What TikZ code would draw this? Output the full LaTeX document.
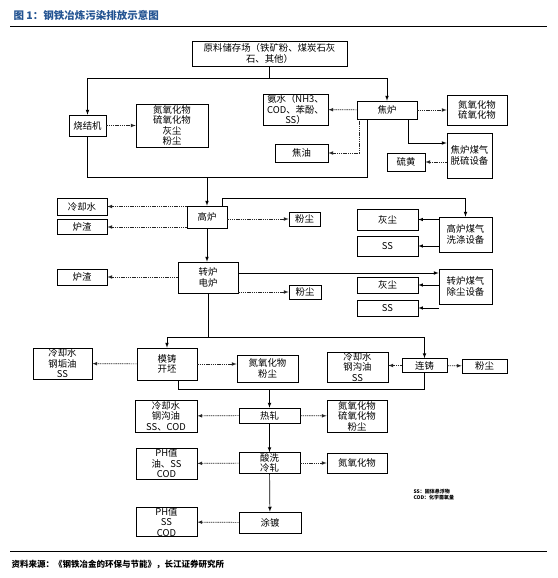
\documentclass[tikz,border=0pt]{standalone}
\usepackage{fontspec}
\setmainfont{Noto Sans CJK SC}
\usetikzlibrary{arrows}

\definecolor{titleblue}{RGB}{36,84,146}

\tikzset{
	box/.style = {draw, line width = 0.7pt, align = center, inner sep = 0pt,
		font = \fontsize{9.4}{10.5}\selectfont},
	flow/.style = {->, line width = 0.7pt},
	emit/.style = {->, line width = 0.65pt, dash pattern = on 1.4pt off 0.8pt, black!85}
}

\begin{document}
\begin{tikzpicture}[> = latex, x = 1pt, y = -1pt]

	\useasboundingbox (0, 0) rectangle (557, 578);

	% Title and rules

	\node [anchor = west, text = titleblue, font = \fontsize{10.5}{12}\selectfont\bfseries] (title) at (10, 15) {图 1：钢铁冶炼污染排放示意图};
	\draw [line width = 1pt] (10, 27) -- (547, 27);
	\draw [line width = 1pt] (10, 551) -- (547, 551);
	\node [anchor = west, font = \fontsize{8.5}{10}\selectfont\bfseries] (source) at (8, 564) {资料来源：《钢铁冶金的环保与节能》，长江证券研究所};

	% Raw material, sinter and coke

	\node [box, minimum width = 155, minimum height = 25] (yard) at (269.5, 53.5) {原料储存场（铁矿粉、煤炭石灰\\石、其他）};
	\node [box, minimum width = 37, minimum height = 21] (sinter) at (87.5, 125.5) {烧结机};
	\node [box, minimum width = 72, minimum height = 43] (sinterout) at (172, 125.5) {氮氧化物\\硫氧化物\\灰尘\\粉尘};
	\node [box, minimum width = 60, minimum height = 18] (coke) at (387, 110) {焦炉};
	\node [box, minimum width = 65, minimum height = 31] (ammonia) at (295.5, 109.5) {氨水（NH3、\\COD、苯酚、\\SS）};
	\node [box, minimum width = 60, minimum height = 30] (cokeout) at (477, 110) {氮氧化物\\硫氧化物};
	\node [box, minimum width = 45, minimum height = 45] (desulf) at (469.5, 155.5) {焦炉煤气\\脱硫设备};
	\node [box, minimum width = 38, minimum height = 18] (sulfur) at (406, 162) {硫黄};
	\node [box, minimum width = 53, minimum height = 18] (tar) at (301.5, 153) {焦油};

	% Blast furnace

	\node [box, minimum width = 40, minimum height = 22] (blast) at (207, 217) {高炉};
	\node [box, minimum width = 50, minimum height = 17] (coolA) at (82, 206.5) {冷却水};
	\node [box, minimum width = 50, minimum height = 15] (slagA) at (82, 227) {炉渣};
	\node [box, minimum width = 31, minimum height = 14] (dustA) at (304.5, 219) {粉尘};
	\node [box, minimum width = 53, minimum height = 35] (wash) at (465.5, 234.5) {高炉煤气\\洗涤设备};
	\node [box, minimum width = 61, minimum height = 21] (ashA) at (387.5, 219.5) {灰尘};
	\node [box, minimum width = 61, minimum height = 20] (ssA) at (387.5, 246) {SS};

	% Converter

	\node [box, minimum width = 60, minimum height = 31] (conv) at (208, 277.5) {转炉\\电炉};
	\node [box, minimum width = 50, minimum height = 16] (slagB) at (82, 277) {炉渣};
	\node [box, minimum width = 32, minimum height = 14] (dustB) at (305, 292) {粉尘};
	\node [box, minimum width = 53, minimum height = 35] (clean) at (465.5, 286.5) {转炉煤气\\除尘设备};
	\node [box, minimum width = 61, minimum height = 16] (ashB) at (387.5, 285) {灰尘};
	\node [box, minimum width = 61, minimum height = 16] (ssB) at (387.5, 308) {SS};

	% Casting

	\node [box, minimum width = 60, minimum height = 32] (ingot) at (167, 364) {模铸\\开坯};
	\node [box, minimum width = 59, minimum height = 31] (ingotL) at (62.5, 363.5) {冷却水\\钢垢油\\SS};
	\node [box, minimum width = 61, minimum height = 27] (ingotR) at (267.5, 368.5) {氮氧化物\\粉尘};
	\node [box, minimum width = 45, minimum height = 14] (cast) at (424.5, 365.5) {连铸};
	\node [box, minimum width = 61, minimum height = 30] (castL) at (357.5, 367) {冷却水\\钢沟油\\SS};
	\node [box, minimum width = 45, minimum height = 14] (castR) at (484.5, 366) {粉尘};

	% Rolling and coating

	\node [box, minimum width = 61, minimum height = 15] (hot) at (269.5, 415.5) {热轧};
	\node [box, minimum width = 62, minimum height = 32] (hotL) at (166, 416) {冷却水\\钢沟油\\SS、COD};
	\node [box, minimum width = 60, minimum height = 32] (hotR) at (357, 416) {氮氧化物\\硫氧化物\\粉尘};
	\node [box, minimum width = 61, minimum height = 21] (pickle) at (269.5, 463) {酸洗\\冷轧};
	\node [box, minimum width = 61, minimum height = 31] (pickleL) at (166.5, 463.5) {PH值\\油、SS\\COD};
	\node [box, minimum width = 60, minimum height = 20] (pickleR) at (357, 463) {氮氧化物};
	\node [box, minimum width = 62, minimum height = 21] (coat) at (270, 522.5) {涂镀};
	\node [box, minimum width = 61, minimum height = 28] (coatL) at (166.5, 522) {PH值\\SS\\COD};

	% Legend

	\node [anchor = west, align = left, font = \fontsize{5}{6}\selectfont\bfseries] (legend) at (410, 495) {SS：固体悬浮物\\COD：化学需氧量};

	% Junctions

	\coordinate (top) at (269.5, 78);
	\coordinate (cokeA) at (359, 119);
	\coordinate (cokeB) at (367, 119);
	\coordinate (cokeC) at (408, 119);
	\coordinate (busA) at (207, 177);
	\coordinate (blastR) at (222, 206);
	\coordinate (convR) at (238, 273);
	\coordinate (busB) at (208, 337);
	\coordinate (ingotB) at (178, 380);
	\coordinate (busC) at (269.5, 389);

	% Main flow

	\draw [line width = 0.7pt] (yard.south) -- (top);
	\draw [flow] (top) -| (sinter.north);
	\draw [flow] (top) -| (coke.north);
	\draw [line width = 0.7pt] (sinter.south) |- (busA);
	\draw [line width = 0.7pt] (cokeB) |- (busA);
	\draw [flow] (busA) -- (blast.north);
	\draw [flow] (cokeC) |- ([yshift = 12.5pt]desulf.west);
	\draw [flow] (blastR) -- ++(0, -8) -| (wash.north);
	\draw [flow] (blast.south) -- (blast.south |- conv.north);
	\draw [flow] (convR) -- (convR -| clean.west);
	\draw [line width = 0.7pt] (conv.south) -- (busB);
	\draw [flow] (busB) -| (ingot.north);
	\draw [flow] (busB) -| (cast.north);
	\draw [line width = 0.7pt] (ingotB) |- (busC);
	\draw [line width = 0.7pt] (cast.south) |- (busC);
	\draw [flow] (busC) -- (hot.north);
	\draw [flow] (hot) -- (pickle);
	\draw [flow] (pickle) -- (coat);

	% Emissions

	\draw [emit] (sinter) -- (sinterout);
	\draw [emit] (coke) -- (ammonia);
	\draw [emit] (coke) -- (cokeout);
	\draw [emit] (cokeA) |- (tar.east);
	\draw [emit] (desulf.west |- sulfur.east) -- (sulfur.east);
	\draw [emit] (blast.west |- coolA.east) -- (coolA.east);
	\draw [emit] (blast.west |- slagA.east) -- (slagA.east);
	\draw [emit] (blast.east |- dustA.west) -- (dustA.west);
	\draw [flow, line width = 0.6pt] (wash.west |- ashA.east) -- (ashA.east);
	\draw [flow, line width = 0.6pt] (wash.west |- ssA.east) -- (ssA.east);
	\draw [emit] (conv.west |- slagB.east) -- (slagB.east);
	\draw [emit] (conv.east |- dustB.west) -- (dustB.west);
	\draw [flow, line width = 0.6pt] (clean.west |- ashB.east) -- (ashB.east);
	\draw [flow, line width = 0.6pt] (clean.west |- ssB.east) -- (ssB.east);
	\draw [emit] (ingot) -- (ingotL);
	\draw [emit] (ingot.east) -- (ingot.east -| ingotR.west);
	\draw [emit] (cast.west) -- (cast.west -| castL.east);
	\draw [emit] (cast) -- (castR);
	\draw [emit] (hot) -- (hotL);
	\draw [emit] (hot) -- (hotR);
	\draw [emit] (pickle) -- (pickleL);
	\draw [emit] (pickle) -- (pickleR);
	\draw [emit] (coat) -- (coatL);

\end{tikzpicture}
\end{document}
